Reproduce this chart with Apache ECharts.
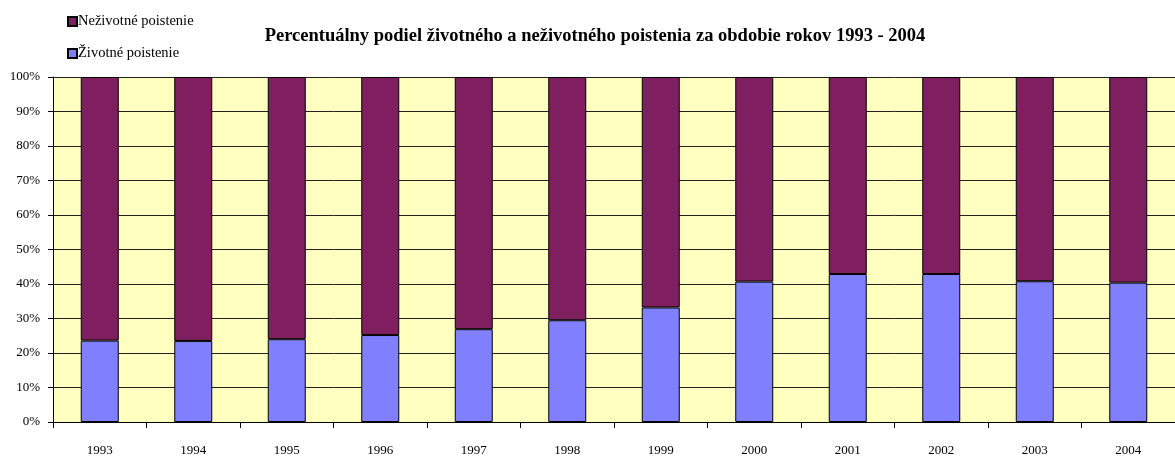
<!DOCTYPE html>
<html>
<head>
<meta charset="utf-8">
<script src="https://cdn.jsdelivr.net/npm/echarts@6/dist/echarts.min.js"></script>
<style>
  html, body { margin: 0; padding: 0; background: #fff; }
  #chart { width: 1175px; height: 457px; }
</style>
</head>
<body>
<div id="chart"></div>
<script>
// roky
var years = ['1993', '1994', '1995', '1996', '1997', '1998', '1999', '2000', '2001', '2002', '2003', '2004'];
// podiel v % (odcitane z grafu)
var zivotne = [23.6, 23.5, 24.0, 25.2, 26.9, 29.5, 33.2, 40.7, 42.9, 42.9, 40.8, 40.4];
var nezivotne = [76.4, 76.5, 76.0, 74.8, 73.1, 70.5, 66.8, 59.3, 57.1, 57.1, 59.2, 59.6];
var yTicks = ['0%', '10%', '20%', '30%', '40%', '50%', '60%', '70%', '80%', '90%', '100%'];

var font = '"Liberation Serif", "Times New Roman", serif';

var chart = echarts.init(document.getElementById('chart'));

var option = {
    animation: false,
    title: {
        text: 'Percentuálny podiel životného a neživotného poistenia za obdobie rokov 1993 - 2004',
        left: 590,
        textAlign: 'center',
        top: 22,
        textStyle: { fontFamily: font, fontSize: 18.5, fontWeight: 'bold', color: '#000' }
    },
    legend: {
        data: ['Neživotné poistenie', 'Životné poistenie'],
        orient: 'vertical',
        left: 62,
        top: 9,
        itemWidth: 9,
        itemHeight: 9,
        itemGap: 17,
        icon: 'rect',
        textStyle: { fontFamily: font, fontSize: 14.5, color: '#000', padding: [0, 0, 0, -4] }
    },
    grid: {
        left: 53,
        right: 0,
        top: 77,
        bottom: 34,
        show: true,
        backgroundColor: '#FFFFC0',
        borderWidth: 0
    },
    xAxis: {
        type: 'category',
        data: years,
        axisLine: { lineStyle: { color: '#000', width: 1 } },
        axisTick: { show: true, length: 6, inside: false, lineStyle: { color: '#000' } },
        axisLabel: { fontFamily: font, fontSize: 13, color: '#000', margin: 22 }
    },
    yAxis: {
        type: 'value',
        min: 0,
        max: 100,
        interval: 10,
        axisLine: { show: true, lineStyle: { color: '#000', width: 1 } },
        axisTick: { show: true, length: 5, lineStyle: { color: '#000' } },
        axisLabel: {
            fontFamily: font, fontSize: 13, color: '#000', margin: 13,
            formatter: function (v) { return yTicks[Math.round(v / 10)]; }
        },
        splitLine: { show: true, lineStyle: { color: '#222', width: 1 } }
    },
    series: [
        {
            name: 'Životné poistenie',
            type: 'bar',
            stack: 'spolu',
            barWidth: 38,
            data: zivotne,
            itemStyle: { color: '#8080FF', borderColor: '#000', borderWidth: 1 }
        },
        {
            name: 'Neživotné poistenie',
            type: 'bar',
            stack: 'spolu',
            barWidth: 38,
            data: nezivotne,
            itemStyle: { color: '#7F1F5F', borderColor: '#000', borderWidth: 1 }
        }
    ]
};

chart.setOption(option);
</script>
</body>
</html>
